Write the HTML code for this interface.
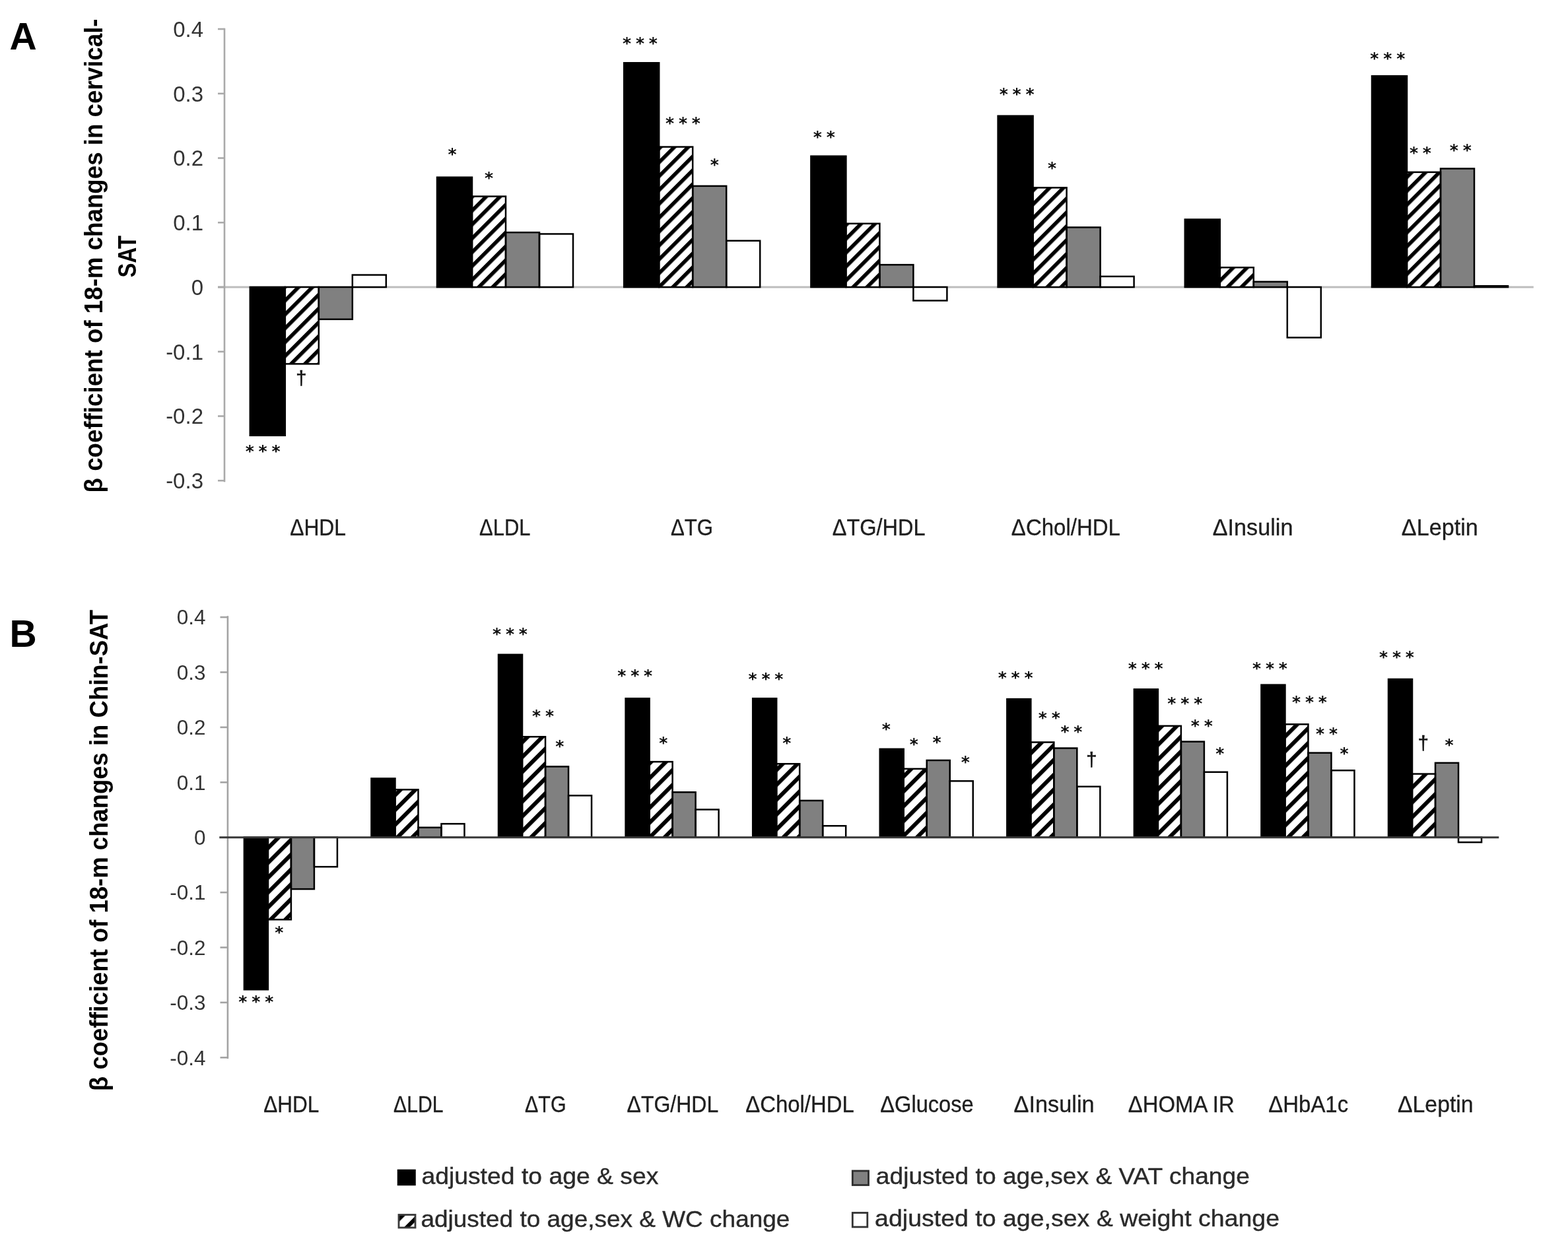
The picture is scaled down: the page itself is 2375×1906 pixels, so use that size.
<!DOCTYPE html>
<html><head><meta charset="utf-8"><title>Figure</title>
<style>
html,body{margin:0;padding:0;background:#fff;}
svg{display:block;}
.tick{font-family:"Liberation Sans",Arial,sans-serif;fill:#333;text-anchor:end;}
.tA{font-size:33px;}
.tB{font-size:31.5px;}
.cat{font-family:"Liberation Sans",Arial,sans-serif;font-size:35.5px;fill:#1e1e1e;stroke:#1e1e1e;stroke-width:0.35px;text-anchor:middle;}
.ttl{font-family:"Liberation Sans",Arial,sans-serif;font-size:39px;font-weight:bold;fill:#000;text-anchor:middle;}
.pan{font-family:"Liberation Sans",Arial,sans-serif;font-size:57px;font-weight:bold;fill:#000;}
.st{font-family:"DejaVu Sans",sans-serif;font-size:25px;font-weight:bold;fill:#111;text-anchor:middle;filter:url(#soft);}
.dg{font-family:"Liberation Sans",Arial,sans-serif;font-size:29px;fill:#111;stroke:#111;stroke-width:0.6px;text-anchor:middle;}
.leg{font-family:"Liberation Sans",Arial,sans-serif;font-size:35px;fill:#2a2a2a;stroke:#2a2a2a;stroke-width:0.4px;}
</style></head><body>
<svg width="2375" height="1906" viewBox="0 0 2375 1906">
<defs>
<filter id="soft" x="-20%" y="-20%" width="140%" height="140%"><feGaussianBlur stdDeviation="0.6"/></filter>
<pattern id="hatchA" patternUnits="userSpaceOnUse" width="14.85" height="14.85" patternTransform="rotate(45) translate(0.9 0)">
<rect x="0" y="0" width="14.85" height="14.85" fill="#fff"/><rect x="0" y="0" width="5.6" height="14.85" fill="#000"/>
</pattern>
<pattern id="hatchB" patternUnits="userSpaceOnUse" width="15.9" height="15.9" patternTransform="rotate(45)">
<rect x="0" y="0" width="15.9" height="15.9" fill="#fff"/><rect x="0" y="0" width="6.1" height="15.9" fill="#000"/>
</pattern>
<pattern id="hatchL" patternUnits="userSpaceOnUse" width="17.25" height="17.25" patternTransform="rotate(45) translate(5.35 0)">
<rect x="0" y="0" width="17.25" height="17.25" fill="#fff"/><rect x="0" y="0" width="6" height="17.25" fill="#000"/>
</pattern>
</defs>
<rect width="2375" height="1906" fill="#fff"/>

<line x1="330" y1="435.0" x2="2322.8" y2="435.0" stroke="#bdbdbd" stroke-width="3"/>
<g>
<rect x="378.80" y="435.00" width="53.00" height="224.75" fill="#000"/>
<rect x="431.80" y="435.00" width="51.00" height="116.35" fill="url(#hatchA)"/>
<rect x="482.80" y="435.00" width="51.00" height="48.75" fill="#808080"/>
<rect x="533.80" y="416.55" width="51.00" height="18.45" fill="#fff"/>
<rect x="662.00" y="268.65" width="53.00" height="166.35" fill="#000"/>
<rect x="715.00" y="297.55" width="51.00" height="137.45" fill="url(#hatchA)"/>
<rect x="766.00" y="352.15" width="51.00" height="82.85" fill="#808080"/>
<rect x="817.00" y="354.45" width="51.00" height="80.55" fill="#fff"/>
<rect x="945.20" y="95.25" width="53.00" height="339.75" fill="#000"/>
<rect x="998.20" y="222.55" width="51.00" height="212.45" fill="url(#hatchA)"/>
<rect x="1049.20" y="281.85" width="51.00" height="153.15" fill="#808080"/>
<rect x="1100.20" y="364.75" width="51.00" height="70.25" fill="#fff"/>
<rect x="1228.40" y="236.65" width="53.00" height="198.35" fill="#000"/>
<rect x="1281.40" y="338.75" width="51.00" height="96.25" fill="url(#hatchA)"/>
<rect x="1332.40" y="401.15" width="51.00" height="33.85" fill="#808080"/>
<rect x="1383.40" y="435.00" width="51.00" height="20.45" fill="#fff"/>
<rect x="1511.60" y="175.65" width="53.00" height="259.35" fill="#000"/>
<rect x="1564.60" y="284.35" width="51.00" height="150.65" fill="url(#hatchA)"/>
<rect x="1615.60" y="344.45" width="51.00" height="90.55" fill="#808080"/>
<rect x="1666.60" y="418.85" width="51.00" height="16.15" fill="#fff"/>
<rect x="1794.80" y="332.45" width="53.00" height="102.55" fill="#000"/>
<rect x="1847.80" y="405.25" width="51.00" height="29.75" fill="url(#hatchA)"/>
<rect x="1898.80" y="426.85" width="51.00" height="8.15" fill="#808080"/>
<rect x="1949.80" y="435.00" width="51.00" height="76.45" fill="#fff"/>
<rect x="2078.00" y="115.15" width="53.00" height="319.85" fill="#000"/>
<rect x="2131.00" y="260.85" width="51.00" height="174.15" fill="url(#hatchA)"/>
<rect x="2182.00" y="255.45" width="51.00" height="179.55" fill="#808080"/>
<rect x="2233.00" y="433.25" width="51.00" height="1.75" fill="#fff"/>
</g>
<g fill="none" stroke="#000" stroke-width="2.5">
<rect x="378.80" y="435.00" width="53.00" height="224.75"/>
<rect x="431.80" y="435.00" width="51.00" height="116.35"/>
<rect x="482.80" y="435.00" width="51.00" height="48.75"/>
<rect x="533.80" y="416.55" width="51.00" height="18.45"/>
<rect x="662.00" y="268.65" width="53.00" height="166.35"/>
<rect x="715.00" y="297.55" width="51.00" height="137.45"/>
<rect x="766.00" y="352.15" width="51.00" height="82.85"/>
<rect x="817.00" y="354.45" width="51.00" height="80.55"/>
<rect x="945.20" y="95.25" width="53.00" height="339.75"/>
<rect x="998.20" y="222.55" width="51.00" height="212.45"/>
<rect x="1049.20" y="281.85" width="51.00" height="153.15"/>
<rect x="1100.20" y="364.75" width="51.00" height="70.25"/>
<rect x="1228.40" y="236.65" width="53.00" height="198.35"/>
<rect x="1281.40" y="338.75" width="51.00" height="96.25"/>
<rect x="1332.40" y="401.15" width="51.00" height="33.85"/>
<rect x="1383.40" y="435.00" width="51.00" height="20.45"/>
<rect x="1511.60" y="175.65" width="53.00" height="259.35"/>
<rect x="1564.60" y="284.35" width="51.00" height="150.65"/>
<rect x="1615.60" y="344.45" width="51.00" height="90.55"/>
<rect x="1666.60" y="418.85" width="51.00" height="16.15"/>
<rect x="1794.80" y="332.45" width="53.00" height="102.55"/>
<rect x="1847.80" y="405.25" width="51.00" height="29.75"/>
<rect x="1898.80" y="426.85" width="51.00" height="8.15"/>
<rect x="1949.80" y="435.00" width="51.00" height="76.45"/>
<rect x="2078.00" y="115.15" width="53.00" height="319.85"/>
<rect x="2131.00" y="260.85" width="51.00" height="174.15"/>
<rect x="2182.00" y="255.45" width="51.00" height="179.55"/>
<rect x="2233.00" y="433.25" width="51.00" height="1.75"/>
</g>
<g stroke="#a9a9a9" stroke-width="2.6" fill="none">
<line x1="340.0" y1="42.8" x2="340.0" y2="730.3"/>
<line x1="330" y1="728.2" x2="340.0" y2="728.2"/>
<line x1="330" y1="630.5" x2="340.0" y2="630.5"/>
<line x1="330" y1="532.8" x2="340.0" y2="532.8"/>
<line x1="330" y1="435.0" x2="340.0" y2="435.0"/>
<line x1="330" y1="337.2" x2="340.0" y2="337.2"/>
<line x1="330" y1="239.5" x2="340.0" y2="239.5"/>
<line x1="330" y1="141.8" x2="340.0" y2="141.8"/>
<line x1="330" y1="44.0" x2="340.0" y2="44.0"/>
</g>
<g>
<rect x="369.90" y="1268.70" width="36.00" height="230.55" fill="#000"/>
<rect x="405.90" y="1268.70" width="35.00" height="124.55" fill="url(#hatchB)"/>
<rect x="440.90" y="1268.70" width="35.00" height="78.35" fill="#808080"/>
<rect x="475.90" y="1268.70" width="35.00" height="44.55" fill="#fff"/>
<rect x="562.47" y="1179.45" width="36.00" height="89.25" fill="#000"/>
<rect x="598.47" y="1196.35" width="35.00" height="72.35" fill="url(#hatchB)"/>
<rect x="633.47" y="1253.75" width="35.00" height="14.95" fill="#808080"/>
<rect x="668.47" y="1248.15" width="35.00" height="20.55" fill="#fff"/>
<rect x="755.04" y="991.85" width="36.00" height="276.85" fill="#000"/>
<rect x="791.04" y="1116.25" width="35.00" height="152.45" fill="url(#hatchB)"/>
<rect x="826.04" y="1161.45" width="35.00" height="107.25" fill="#808080"/>
<rect x="861.04" y="1205.35" width="35.00" height="63.35" fill="#fff"/>
<rect x="947.61" y="1058.25" width="36.00" height="210.45" fill="#000"/>
<rect x="983.61" y="1154.15" width="35.00" height="114.55" fill="url(#hatchB)"/>
<rect x="1018.61" y="1200.25" width="35.00" height="68.45" fill="#808080"/>
<rect x="1053.61" y="1226.55" width="35.00" height="42.15" fill="#fff"/>
<rect x="1140.18" y="1058.25" width="36.00" height="210.45" fill="#000"/>
<rect x="1176.18" y="1157.25" width="35.00" height="111.45" fill="url(#hatchB)"/>
<rect x="1211.18" y="1212.95" width="35.00" height="55.75" fill="#808080"/>
<rect x="1246.18" y="1251.25" width="35.00" height="17.45" fill="#fff"/>
<rect x="1332.75" y="1134.85" width="36.00" height="133.85" fill="#000"/>
<rect x="1368.75" y="1164.85" width="35.00" height="103.85" fill="url(#hatchB)"/>
<rect x="1403.75" y="1151.95" width="35.00" height="116.75" fill="#808080"/>
<rect x="1438.75" y="1183.35" width="35.00" height="85.35" fill="#fff"/>
<rect x="1525.32" y="1059.15" width="36.00" height="209.55" fill="#000"/>
<rect x="1561.32" y="1124.55" width="35.00" height="144.15" fill="url(#hatchB)"/>
<rect x="1596.32" y="1133.55" width="35.00" height="135.15" fill="#808080"/>
<rect x="1631.32" y="1191.75" width="35.00" height="76.95" fill="#fff"/>
<rect x="1717.89" y="1044.35" width="36.00" height="224.35" fill="#000"/>
<rect x="1753.89" y="1099.85" width="35.00" height="168.85" fill="url(#hatchB)"/>
<rect x="1788.89" y="1123.65" width="35.00" height="145.05" fill="#808080"/>
<rect x="1823.89" y="1169.75" width="35.00" height="98.95" fill="#fff"/>
<rect x="1910.46" y="1037.65" width="36.00" height="231.05" fill="#000"/>
<rect x="1946.46" y="1097.35" width="35.00" height="171.35" fill="url(#hatchB)"/>
<rect x="1981.46" y="1140.65" width="35.00" height="128.05" fill="#808080"/>
<rect x="2016.46" y="1167.25" width="35.00" height="101.45" fill="#fff"/>
<rect x="2103.03" y="1029.05" width="36.00" height="239.65" fill="#000"/>
<rect x="2139.03" y="1172.55" width="35.00" height="96.15" fill="url(#hatchB)"/>
<rect x="2174.03" y="1155.85" width="35.00" height="112.85" fill="#808080"/>
<rect x="2209.03" y="1268.70" width="35.00" height="7.45" fill="#fff"/>
</g>
<g fill="none" stroke="#000" stroke-width="2.5">
<rect x="369.90" y="1268.70" width="36.00" height="230.55"/>
<rect x="405.90" y="1268.70" width="35.00" height="124.55"/>
<rect x="440.90" y="1268.70" width="35.00" height="78.35"/>
<rect x="475.90" y="1268.70" width="35.00" height="44.55"/>
<rect x="562.47" y="1179.45" width="36.00" height="89.25"/>
<rect x="598.47" y="1196.35" width="35.00" height="72.35"/>
<rect x="633.47" y="1253.75" width="35.00" height="14.95"/>
<rect x="668.47" y="1248.15" width="35.00" height="20.55"/>
<rect x="755.04" y="991.85" width="36.00" height="276.85"/>
<rect x="791.04" y="1116.25" width="35.00" height="152.45"/>
<rect x="826.04" y="1161.45" width="35.00" height="107.25"/>
<rect x="861.04" y="1205.35" width="35.00" height="63.35"/>
<rect x="947.61" y="1058.25" width="36.00" height="210.45"/>
<rect x="983.61" y="1154.15" width="35.00" height="114.55"/>
<rect x="1018.61" y="1200.25" width="35.00" height="68.45"/>
<rect x="1053.61" y="1226.55" width="35.00" height="42.15"/>
<rect x="1140.18" y="1058.25" width="36.00" height="210.45"/>
<rect x="1176.18" y="1157.25" width="35.00" height="111.45"/>
<rect x="1211.18" y="1212.95" width="35.00" height="55.75"/>
<rect x="1246.18" y="1251.25" width="35.00" height="17.45"/>
<rect x="1332.75" y="1134.85" width="36.00" height="133.85"/>
<rect x="1368.75" y="1164.85" width="35.00" height="103.85"/>
<rect x="1403.75" y="1151.95" width="35.00" height="116.75"/>
<rect x="1438.75" y="1183.35" width="35.00" height="85.35"/>
<rect x="1525.32" y="1059.15" width="36.00" height="209.55"/>
<rect x="1561.32" y="1124.55" width="35.00" height="144.15"/>
<rect x="1596.32" y="1133.55" width="35.00" height="135.15"/>
<rect x="1631.32" y="1191.75" width="35.00" height="76.95"/>
<rect x="1717.89" y="1044.35" width="36.00" height="224.35"/>
<rect x="1753.89" y="1099.85" width="35.00" height="168.85"/>
<rect x="1788.89" y="1123.65" width="35.00" height="145.05"/>
<rect x="1823.89" y="1169.75" width="35.00" height="98.95"/>
<rect x="1910.46" y="1037.65" width="36.00" height="231.05"/>
<rect x="1946.46" y="1097.35" width="35.00" height="171.35"/>
<rect x="1981.46" y="1140.65" width="35.00" height="128.05"/>
<rect x="2016.46" y="1167.25" width="35.00" height="101.45"/>
<rect x="2103.03" y="1029.05" width="36.00" height="239.65"/>
<rect x="2139.03" y="1172.55" width="35.00" height="96.15"/>
<rect x="2174.03" y="1155.85" width="35.00" height="112.85"/>
<rect x="2209.03" y="1268.70" width="35.00" height="7.45"/>
</g>
<g stroke="#a3a3a3" stroke-width="2.6" fill="none">
<line x1="344.9" y1="933.2" x2="344.9" y2="1604"/>
<line x1="333.5" y1="1602.3" x2="344.9" y2="1602.3"/>
<line x1="333.5" y1="1518.9" x2="344.9" y2="1518.9"/>
<line x1="333.5" y1="1435.5" x2="344.9" y2="1435.5"/>
<line x1="333.5" y1="1352.1" x2="344.9" y2="1352.1"/>
<line x1="333.5" y1="1185.3" x2="344.9" y2="1185.3"/>
<line x1="333.5" y1="1101.9" x2="344.9" y2="1101.9"/>
<line x1="333.5" y1="1018.5" x2="344.9" y2="1018.5"/>
<line x1="333.5" y1="935.1" x2="344.9" y2="935.1"/>
</g>
<line x1="332.3" y1="1268.7" x2="2270.3" y2="1268.7" stroke="#383838" stroke-width="3"/>
<g class="tick tA">
<text x="308.0" y="55.8">0.4</text>
<text x="308.0" y="153.6">0.3</text>
<text x="308.0" y="251.3">0.2</text>
<text x="308.0" y="349.1">0.1</text>
<text x="308.0" y="446.8">0</text>
<text x="308.0" y="544.6">-0.1</text>
<text x="308.0" y="642.3">-0.2</text>
<text x="308.0" y="740.1">-0.3</text>
</g>
<g class="tick tB">
<text x="311.5" y="946.4">0.4</text>
<text x="311.5" y="1029.8">0.3</text>
<text x="311.5" y="1113.2">0.2</text>
<text x="311.5" y="1196.6">0.1</text>
<text x="311.5" y="1280.0">0</text>
<text x="311.5" y="1363.4">-0.1</text>
<text x="311.5" y="1446.8">-0.2</text>
<text x="311.5" y="1530.2">-0.3</text>
<text x="311.5" y="1613.6">-0.4</text>
</g>
<g class="cat">
<text x="481.6" y="811.0" textLength="84.9" lengthAdjust="spacingAndGlyphs">ΔHDL</text>
<text x="764.8" y="811.0" textLength="77.5" lengthAdjust="spacingAndGlyphs">ΔLDL</text>
<text x="1048.0" y="811.0" textLength="64.2" lengthAdjust="spacingAndGlyphs">ΔTG</text>
<text x="1331.2" y="811.0" textLength="140.9" lengthAdjust="spacingAndGlyphs">ΔTG/HDL</text>
<text x="1614.4" y="811.0" textLength="165.1" lengthAdjust="spacingAndGlyphs">ΔChol/HDL</text>
<text x="1897.6" y="811.0" textLength="121.7" lengthAdjust="spacingAndGlyphs">ΔInsulin</text>
<text x="2180.8" y="811.0" textLength="115.9" lengthAdjust="spacingAndGlyphs">ΔLeptin</text>
<text x="441.2" y="1684.6" textLength="84.0" lengthAdjust="spacingAndGlyphs">ΔHDL</text>
<text x="633.8" y="1684.6" textLength="75.4" lengthAdjust="spacingAndGlyphs">ΔLDL</text>
<text x="826.3" y="1684.6" textLength="62.5" lengthAdjust="spacingAndGlyphs">ΔTG</text>
<text x="1018.9" y="1684.6" textLength="138.7" lengthAdjust="spacingAndGlyphs">ΔTG/HDL</text>
<text x="1211.5" y="1684.6" textLength="164.5" lengthAdjust="spacingAndGlyphs">ΔChol/HDL</text>
<text x="1404.0" y="1684.6" textLength="141.4" lengthAdjust="spacingAndGlyphs">ΔGlucose</text>
<text x="1596.6" y="1684.6" textLength="122.2" lengthAdjust="spacingAndGlyphs">ΔInsulin</text>
<text x="1789.2" y="1684.6" textLength="161.0" lengthAdjust="spacingAndGlyphs">ΔHOMA IR</text>
<text x="1981.7" y="1684.6" textLength="120.9" lengthAdjust="spacingAndGlyphs">ΔHbA1c</text>
<text x="2174.3" y="1684.6" textLength="114.6" lengthAdjust="spacingAndGlyphs">ΔLeptin</text>
</g>
<g class="st">
<text x="378.2" y="691.9">*</text>
<text x="398.1" y="691.9">*</text>
<text x="418.0" y="691.9">*</text>
<text x="685.1" y="242.3">*</text>
<text x="740.5" y="277.7">*</text>
<text x="949.6" y="73.6">*</text>
<text x="969.5" y="73.6">*</text>
<text x="989.4" y="73.6">*</text>
<text x="1014.6" y="194.9">*</text>
<text x="1034.5" y="194.9">*</text>
<text x="1054.4" y="194.9">*</text>
<text x="1082.3" y="258.4">*</text>
<text x="1238.3" y="215.8">*</text>
<text x="1258.2" y="215.8">*</text>
<text x="1520.2" y="151.2">*</text>
<text x="1540.1" y="151.2">*</text>
<text x="1560.0" y="151.2">*</text>
<text x="1593.5" y="263.4">*</text>
<text x="2081.9" y="97.0">*</text>
<text x="2101.8" y="97.0">*</text>
<text x="2121.7" y="97.0">*</text>
<text x="2141.6" y="239.7">*</text>
<text x="2161.4" y="239.7">*</text>
<text x="2202.4" y="235.8">*</text>
<text x="2222.2" y="235.8">*</text>
<text x="367.9" y="1525.6">*</text>
<text x="387.8" y="1525.6">*</text>
<text x="407.7" y="1525.6">*</text>
<text x="422.8" y="1420.8">*</text>
<text x="752.6" y="968.5">*</text>
<text x="772.5" y="968.5">*</text>
<text x="792.4" y="968.5">*</text>
<text x="812.5" y="1092.7">*</text>
<text x="832.5" y="1092.7">*</text>
<text x="847.9" y="1138.9">*</text>
<text x="941.8" y="1031.6">*</text>
<text x="961.7" y="1031.6">*</text>
<text x="981.6" y="1031.6">*</text>
<text x="1004.7" y="1133.8">*</text>
<text x="1140.1" y="1036.5">*</text>
<text x="1160.0" y="1036.5">*</text>
<text x="1179.9" y="1036.5">*</text>
<text x="1191.8" y="1133.5">*</text>
<text x="1342.3" y="1112.9">*</text>
<text x="1384.3" y="1135.8">*</text>
<text x="1419.0" y="1133.1">*</text>
<text x="1462.3" y="1162.7">*</text>
<text x="1518.2" y="1034.8">*</text>
<text x="1538.1" y="1034.8">*</text>
<text x="1558.0" y="1034.8">*</text>
<text x="1579.2" y="1095.7">*</text>
<text x="1599.2" y="1095.7">*</text>
<text x="1613.0" y="1117.2">*</text>
<text x="1632.9" y="1117.2">*</text>
<text x="1715.3" y="1020.5">*</text>
<text x="1735.2" y="1020.5">*</text>
<text x="1755.1" y="1020.5">*</text>
<text x="1774.9" y="1074.2">*</text>
<text x="1794.8" y="1074.2">*</text>
<text x="1814.7" y="1074.2">*</text>
<text x="1810.3" y="1108.3">*</text>
<text x="1830.2" y="1108.3">*</text>
<text x="1847.7" y="1150.3">*</text>
<text x="1903.6" y="1020.5">*</text>
<text x="1923.5" y="1020.5">*</text>
<text x="1943.4" y="1020.5">*</text>
<text x="1963.6" y="1071.9">*</text>
<text x="1983.5" y="1071.9">*</text>
<text x="2003.4" y="1071.9">*</text>
<text x="1999.5" y="1119.5">*</text>
<text x="2019.5" y="1119.5">*</text>
<text x="2036.0" y="1149.5">*</text>
<text x="2095.6" y="1004.1">*</text>
<text x="2115.5" y="1004.1">*</text>
<text x="2135.4" y="1004.1">*</text>
<text x="2195.1" y="1136.8">*</text>
</g>
<g class="dg">
<text x="456.2" y="583.0">&#8224;</text>
<text x="1653.2" y="1161.2">&#8224;</text>
<text x="2155.7" y="1136.2">&#8224;</text>
</g>
<g class="ttl">
<text transform="translate(155.1 387.4) rotate(-90)" textLength="718" lengthAdjust="spacingAndGlyphs">β coefficient of 18-m changes in cervical-</text>
<text transform="translate(206 388.7) rotate(-90)" textLength="63.4" lengthAdjust="spacingAndGlyphs">SAT</text>
<text transform="translate(163.2 1288.5) rotate(-90)" textLength="729" lengthAdjust="spacingAndGlyphs">β coefficient of 18-m changes in Chin-SAT</text>
</g>
<text class="pan" x="14.5" y="75">A</text>
<text class="pan" x="14.5" y="979.8">B</text>
<rect x="603" y="1773" width="25.5" height="22" fill="#000" stroke="#000" stroke-width="2.5"/>
<rect x="604" y="1840.5" width="25" height="19.5" fill="url(#hatchL)" stroke="#3a3a3a" stroke-width="2.8"/>
<rect x="1291.3" y="1774" width="24.2" height="21.5" fill="#808080" stroke="#2e2e2e" stroke-width="2.8"/>
<rect x="1291.3" y="1837.5" width="22.5" height="21.5" fill="#fff" stroke="#333" stroke-width="2.8"/>
<g class="leg">
<text x="638.4" y="1794" textLength="359" lengthAdjust="spacingAndGlyphs">adjusted to age &amp; sex</text>
<text x="637.4" y="1858.7" textLength="559" lengthAdjust="spacingAndGlyphs">adjusted to age,sex &amp; WC change</text>
<text x="1326.8" y="1794.3" textLength="566" lengthAdjust="spacingAndGlyphs">adjusted to age,sex &amp; VAT change</text>
<text x="1325.1" y="1858.3" textLength="613" lengthAdjust="spacingAndGlyphs">adjusted to age,sex &amp; weight change</text>
</g>
</svg></body></html>
